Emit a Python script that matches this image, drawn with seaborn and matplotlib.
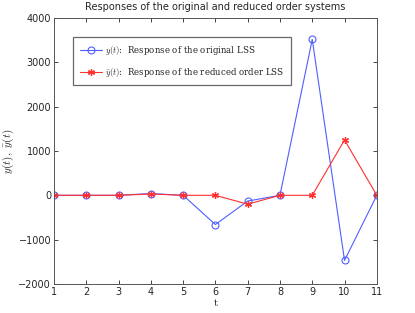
import numpy as np
import pandas as pd
import matplotlib
matplotlib.use("Agg")
import matplotlib.pyplot as plt
import seaborn as sns

# time steps and the two responses
t = [1, 2, 3, 4, 5, 6, 7, 8, 9, 10, 11]
y_orig = [0, 0, 0, 40, 0, -660, -130, 0, 3520, -1470, 0]
y_red = [0, 0, 0, 30, 0, 0, -200, 0, 0, 1250, 0]

sns.set_style("ticks")
plt.rcParams["font.family"] = ["DejaVu Sans"]
plt.rcParams["mathtext.fontset"] = "cm"
plt.rcParams["xtick.direction"] = "in"
plt.rcParams["ytick.direction"] = "in"

df = pd.DataFrame({"t": t, "orig": y_orig, "red": y_red})

fig = plt.figure(figsize=(4.15, 3.13), dpi=100)
ax = fig.add_axes([0.130, 0.093, 0.778, 0.849])

sns.lineplot(data=df, x="t", y="orig", ax=ax, color="#4f5fff", lw=0.8,
             marker="o", markersize=5, markerfacecolor="none",
             markeredgecolor="#4f5fff", markeredgewidth=0.8,
             label=r"$y(t)$:  Response of the original LSS")
# asterisk marker like matlab's '*'
sns.lineplot(data=df, x="t", y="red", ax=ax, color="#ff3030", lw=0.8,
             marker=(6, 2, 0), markersize=5, markeredgecolor="#ff3030",
             markeredgewidth=0.9,
             label=r"$\bar{y}(t)$:  Response of the reduced order LSS")

ax.set_xlim(1, 11)
ax.set_ylim(-2000, 4000)
ax.set_xticks(t)
ax.set_yticks([-2000, -1000, 0, 1000, 2000, 3000, 4000])
ax.tick_params(labelsize=7, length=3, width=0.6, top=True, right=True, pad=2)
for s in ax.spines.values():
    s.set_linewidth(0.7)
    s.set_color("#555555")

ax.set_title("Responses of the original and reduced order systems", fontsize=7, pad=6)
ax.set_xlabel(r"$\mathrm{t}$", fontsize=8, labelpad=0)
ax.set_ylabel(r"$y(t),\ \bar{y}(t)$", fontsize=8, labelpad=2)

leg = ax.legend(loc="upper left", bbox_to_anchor=(0.045, 0.945), fontsize=6.2,
                frameon=True, fancybox=False, borderpad=0.8, labelspacing=1.0,
                handlelength=2.6, handletextpad=0.3)
leg.get_frame().set_edgecolor("#444444")
leg.get_frame().set_linewidth(0.9)
for txt in leg.get_texts():
    txt.set_family("serif")

fig.savefig("out.png", dpi=100)
